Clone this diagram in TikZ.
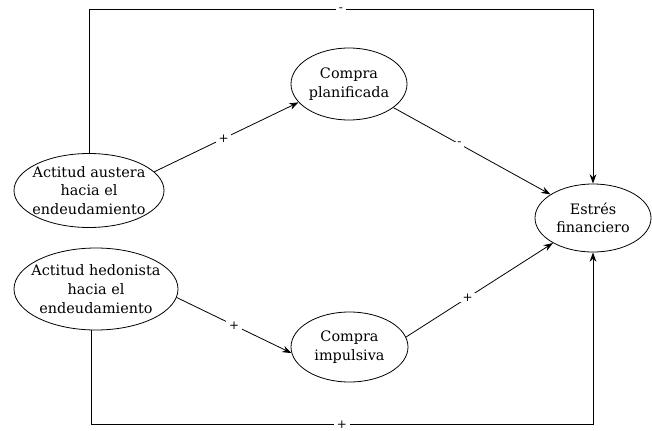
\documentclass[tikz,border=0pt]{standalone}
\usepackage{fontspec}
\setmainfont{DejaVu Serif}
\usetikzlibrary{shapes.geometric,arrows.meta}
\begin{document}
\begin{tikzpicture}[x=0.75pt,y=-0.75pt,
  var/.style={draw,ellipse,inner sep=-20pt,align=center,line width=0.6pt,
    font=\fontsize{10.8}{14}\selectfont},
  conn/.style={line width=0.6pt,-{Stealth[length=7pt,width=5pt]}},
  sign/.style={fill=white,inner xsep=2pt,inner ysep=0.5pt,font=\fontsize{9}{10}\selectfont}]
\useasboundingbox (0,0) rectangle (652,431);
\node[var,minimum width=112.5pt,minimum height=55.5pt] (aus) at (89,190.5) {Actitud austera\\hacia el\\endeudamiento};
\node[var,minimum width=123pt,minimum height=61.5pt] (hed) at (96,289) {Actitud hedonista\\hacia el\\endeudamiento};
\node[var,minimum width=87pt,minimum height=54pt] (pla) at (349,84) {Compra\\planificada};
\node[var,minimum width=87.75pt,minimum height=52.5pt] (imp) at (349.5,347) {Compra\\impulsiva};
\node[var,minimum width=87pt,minimum height=51pt] (est) at (593,218) {Estrés\\financiero};
\coordinate (top) at (0,9.3);
\coordinate (bot) at (0,424.5);
\draw[conn] (aus.16) -- node[sign,pos=0.48] {+} (pla.200);
\draw[conn] (pla.332) -- node[sign,pos=0.42] {-} (est.151);
\draw[conn] (hed.354) -- node[sign,pos=0.5] {+} (imp.186);
\draw[conn] (imp.10) -- node[sign,pos=0.42] {+} (est.212);
\draw[conn] (aus.north) -- (aus.north |- top) -| node[sign,pos=0.25] {-} (est.north);
\draw[conn] (hed.263) -- (hed.263 |- bot) -| node[sign,pos=0.25] {+} (est.south);
\end{tikzpicture}
\end{document}
